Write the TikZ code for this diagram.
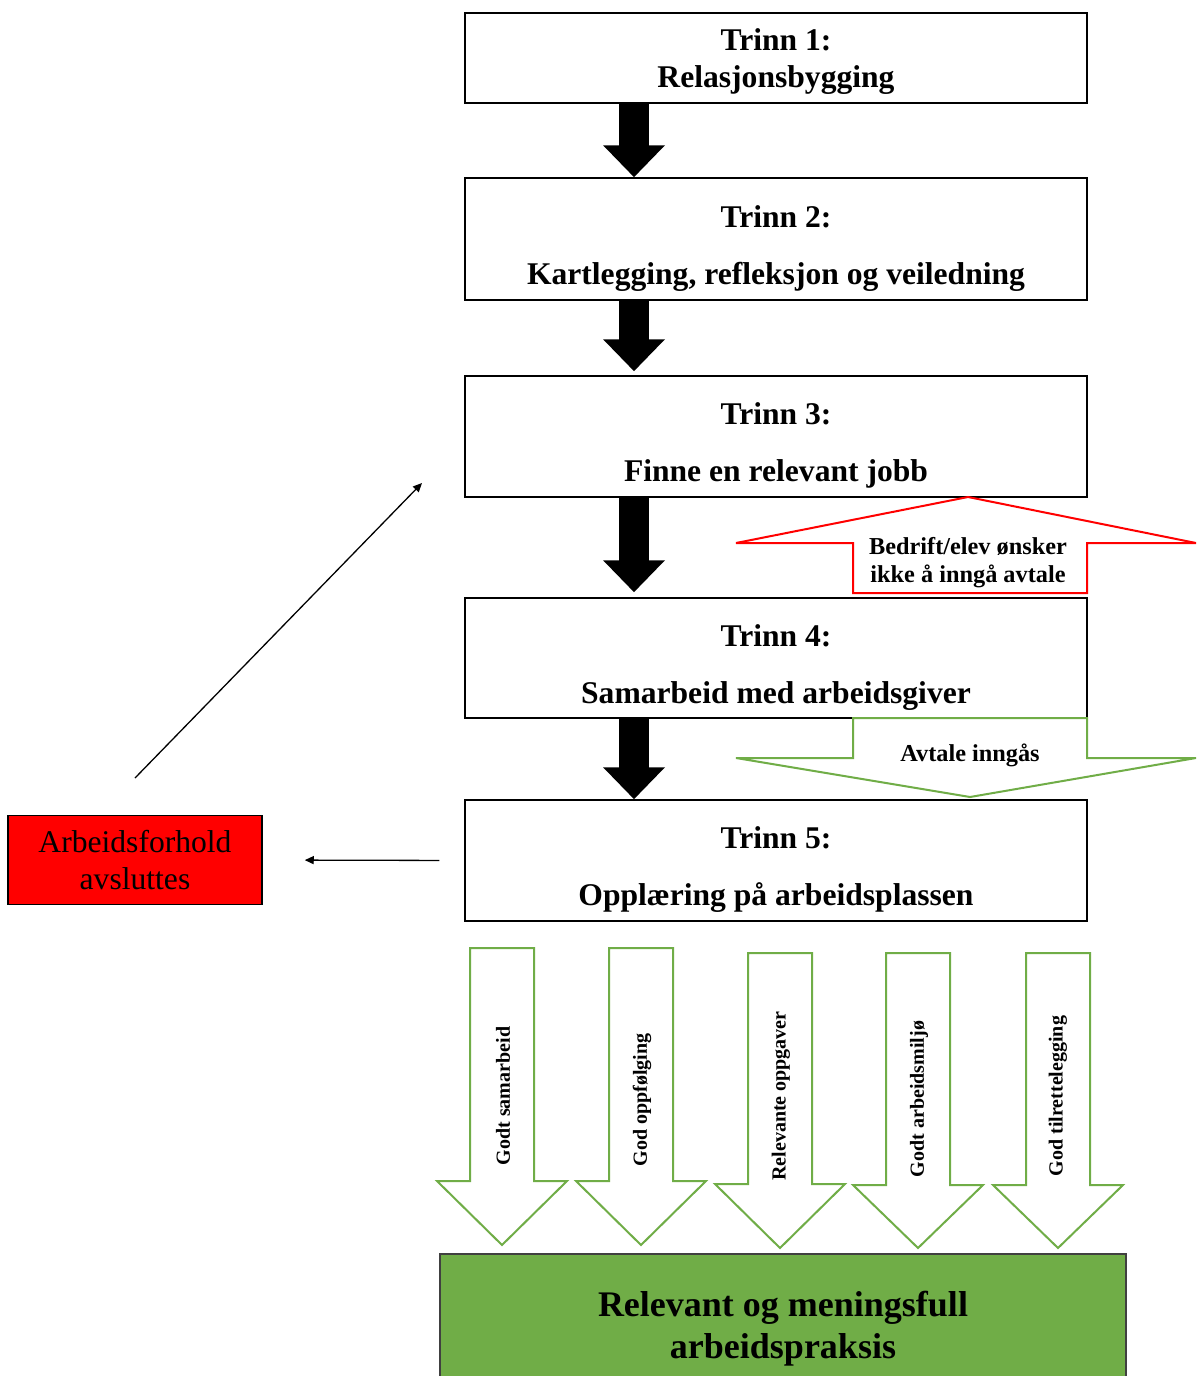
\documentclass[tikz,border=0pt]{standalone}
\usepackage{fontspec}
\setmainfont{Liberation Serif}
\usetikzlibrary{arrows.meta,calc}
\definecolor{okgreen}{HTML}{70AD47}
\definecolor{okred}{HTML}{FF0000}
\definecolor{darkedge}{HTML}{404040}
\newcommand{\greenblock}[4]{% center x, top y, head base y, tip y
  \draw[greenoutline] (#1-32,#2) -- (#1+32,#2) -- (#1+32,#3) -- (#1+65,#3) -- (#1,#4)
    -- (#1-65,#3) -- (#1-32,#3) -- cycle;}
\begin{document}
\begin{tikzpicture}[x=1pt,y=-1pt,
  stepbox/.style={draw=black, line width=1.5pt, fill=white, minimum width=622pt, inner sep=0pt},
  steptext/.style={font=\fontsize{31.6}{37}\selectfont\bfseries, align=center, inner sep=0pt},
  blockarr/.style={line width=30pt, -{Triangle[width=60pt,length=32pt]}},
  thinarr/.style={line width=1.3pt, -{Triangle[width=8pt,length=9pt]}},
  greenoutline/.style={draw=okgreen, line width=2pt, fill=white, line join=miter},
  redoutline/.style={draw=okred, line width=2pt, fill=white, line join=miter},
  smalltext/.style={font=\fontsize{24.3}{28}\selectfont\bfseries, align=center, inner sep=0pt},
  vtext/.style={font=\fontsize{20}{24}\selectfont\bfseries, rotate=90, inner sep=0pt},
]
\useasboundingbox (0,0) rectangle (1197,1376);

% step boxes
\node[stepbox, minimum height=90pt]  (b1) at (776,58) {};
\node[stepbox, minimum height=122pt] (b2) at (776,239) {};
\node[stepbox, minimum height=121pt] (b3) at (776,436.5) {};
\node[stepbox, minimum height=120pt] (b4) at (776,658) {};
\node[stepbox, minimum height=121pt] (b5) at (776,860.5) {};

\node[steptext] (b1t) at (776,61.4) {Trinn 1:\\Relasjonsbygging};
\node[steptext] (b2t) at (776,248.4) {Trinn 2:\\[20pt]Kartlegging, refleksjon og veiledning};
\node[steptext] (b3t) at (776,445.4) {Trinn 3:\\[20pt]Finne en relevant jobb};
\node[steptext] (b4t) at (776,667.4) {Trinn 4:\\[20pt]Samarbeid med arbeidsgiver};
\node[steptext] (b5t) at (776,869.4) {Trinn 5:\\[20pt]Oppl\ae ring på arbeidsplassen};

% black block arrows
\coordinate (ax) at (634,0);
\draw[blockarr] (b1.south -| ax) -- (b2.north -| ax);
\draw[blockarr, shorten >=4pt] (b2.south -| ax) -- (b3.north -| ax);
\draw[blockarr, shorten >=5pt] (b3.south -| ax) -- (b4.north -| ax);
\draw[blockarr] (b4.south -| ax) -- (b5.north -| ax);

% red up arrow (no agreement)
\draw[redoutline] (968,497) -- (1196,543) -- (1087,543) -- (1087,593) -- (853,593)
  -- (853,543) -- (736,543) -- cycle;
\node[smalltext] (noagree) at (968,563) {Bedrift/elev ønsker\\ikke å inngå avtale};

% green down arrow (agreement)
\draw[greenoutline] (853,718) -- (1087,718) -- (1087,758) -- (1196,758) -- (970,797)
  -- (736,758) -- (853,758) -- cycle;
\node[smalltext] (agree) at (970,755) {Avtale inngås};

% red end box
\node[draw=black, line width=1.5pt, fill=okred, minimum width=254pt, minimum height=89pt,
  inner sep=0pt, align=center, font=\fontsize{31.6}{37}\selectfont] (end) at (135,860)
  {Arbeidsforhold\\avsluttes};
\draw[thinarr, shorten <=25pt, shorten >=42pt] (b5.west) -- (end.east);
\coordinate (diagStart) at (135,778);
\coordinate (diagEnd) at (422,483);
\draw[thinarr] (diagStart) -- (diagEnd);

% five green arrows
\greenblock{502}{948}{1181}{1245}
\greenblock{641}{948}{1181}{1245}
\greenblock{780}{953}{1184}{1248}
\greenblock{918}{953}{1185}{1248}
\greenblock{1058}{953}{1185}{1248}
\node[vtext] (f1) at (503,1096) {Godt samarbeid};
\node[vtext] (f2) at (642,1100) {God oppfølging};
\node[vtext] (f3) at (781,1096) {Relevante oppgaver};
\node[vtext] (f4) at (919,1099) {Godt arbeidsmiljø};
\node[vtext] (f5) at (1058,1096) {God tilrettelegging};

% result box
\node[draw=darkedge, line width=1.5pt, fill=okgreen, minimum width=686pt, minimum height=126pt,
  inner sep=0pt] (res) at (783,1317) {};
\node[font=\fontsize{36}{42}\selectfont\bfseries, align=center, inner sep=0pt] (rest)
  at (783,1328.6) {Relevant og meningsfull\\arbeidspraksis};
\end{tikzpicture}
\end{document}
